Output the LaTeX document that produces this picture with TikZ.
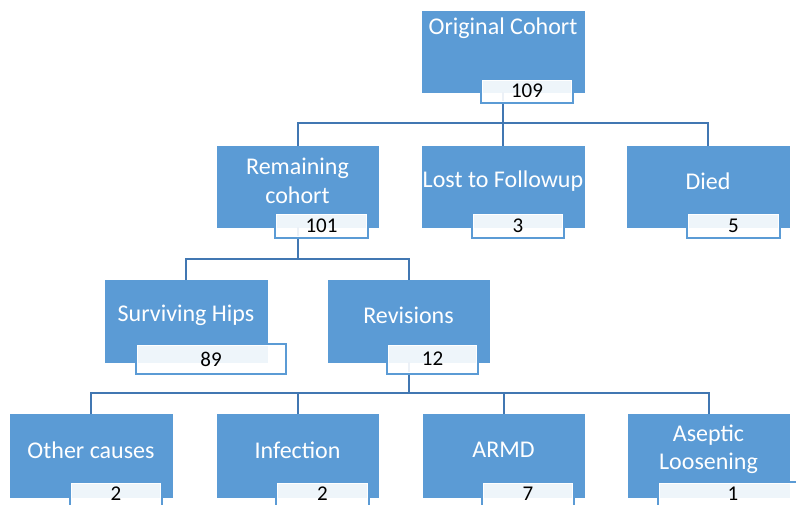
\documentclass[tikz,border=0pt]{standalone}
\usepackage{fontspec}
\setmainfont{Carlito}
\definecolor{boxblue}{RGB}{91,155,213}
\definecolor{linecol}{RGB}{65,119,178}
\tikzset{
  bluebox/.style={fill=boxblue, draw=boxblue, line width=0.5pt, anchor=north west, inner sep=0pt, outer sep=0pt},
  valbox/.style={fill=white, fill opacity=0.9, text opacity=1, draw=boxblue, line width=1.2pt,
    anchor=north west, inner sep=0pt, outer sep=0pt,
    font=\fontsize{21}{24}\selectfont, text=black,
    path picture={\draw[white, line width=3.4pt] (path picture bounding box.south west) rectangle (path picture bounding box.north east);}},
  ttl/.style={text=white, font=\fontsize{24}{28.5}\selectfont, align=center, inner sep=0pt},
  conn/.style={draw=linecol, line width=2pt},
}
\begin{document}
\begin{tikzpicture}[x=1pt,y=-1pt]
\useasboundingbox (0,0) rectangle (796,505);
\clip (0,0) rectangle (796,505);
% blue boxes
\node[bluebox, minimum width=162pt, minimum height=81pt] (oc) at (422,11) {};
\node[bluebox, minimum width=161pt, minimum height=81pt] (rc) at (217,146) {};
\node[bluebox, minimum width=162pt, minimum height=81pt] (lf) at (422,146) {};
\node[bluebox, minimum width=162pt, minimum height=81pt] (died) at (627,146) {};
\node[bluebox, minimum width=162pt, minimum height=82pt] (sh) at (105,280) {};
\node[bluebox, minimum width=161pt, minimum height=82pt] (rev) at (328,280) {};
\node[bluebox, minimum width=162pt, minimum height=83pt] (oth) at (10,414) {};
\node[bluebox, minimum width=161pt, minimum height=83pt] (inf) at (217,414) {};
\node[bluebox, minimum width=161pt, minimum height=83pt] (armd) at (423,414) {};
\node[bluebox, minimum width=161pt, minimum height=83pt] (asl) at (628,414) {};
% connectors
\coordinate (j1) at (503,123);
\coordinate (j2) at (297.5,259);
\coordinate (j3) at (408.5,393);
\draw[conn] (oc.south) -- (j1);
\draw[conn] (rc.north) |- (j1) -| (died.north);
\draw[conn] (lf.north) -- (j1);
\draw[conn] (rc.south) -- (j2);
\draw[conn] (sh.north) |- (j2) -| (rev.north);
\draw[conn] (rev.south) -- (j3);
\draw[conn] (oth.north) |- (j3) -| (asl.north);
\draw[conn] (inf.north) -- (inf.north |- j3);
\draw[conn] (armd.north) -- (armd.north |- j3);
% titles
\node[ttl] (toc) at (503,28) {Original Cohort};
\node[ttl] (trc) at (297.5,181) {Remaining\\cohort};
\node[ttl] (tlf) at (503,181) {Lost to Followup};
\node[ttl] (tdied) at (708,181) {Died};
\node[ttl] (tsh) at (186,315) {Surviving Hips};
\node[ttl] (trev) at (408.5,315) {Revisions};
\node[ttl] (toth) at (91,450) {Other causes};
\node[ttl] (tinf) at (297.5,450) {Infection};
\node[ttl] (tarmd) at (503.5,450) {ARMD};
\node[ttl] (tasl) at (708.5,449.5) {Aseptic\\Loosening};
% value boxes
\node[valbox, minimum width=92pt, minimum height=24pt] (ocv) at (481,79) {109};
\node[valbox, minimum width=93pt, minimum height=25pt] (rcv) at (275,213) {101};
\node[valbox, minimum width=92pt, minimum height=25pt] (lfv) at (472,213) {3};
\node[valbox, minimum width=93pt, minimum height=25pt] (diedv) at (687,213) {5};
\node[valbox, minimum width=150pt, minimum height=30pt] (shv) at (136,344) {89};
\node[valbox, minimum width=91pt, minimum height=30pt] (revv) at (387,344) {12};
\node[valbox, minimum width=92pt, minimum height=24pt] (othv) at (70,482) {2};
\node[valbox, minimum width=93pt, minimum height=24pt] (infv) at (276,482) {2};
\node[valbox, minimum width=92pt, minimum height=24pt] (armdv) at (482,482) {7};
\node[valbox, minimum width=150pt, minimum height=24pt] (aslv) at (658,482) {1};
\end{tikzpicture}
\end{document}
